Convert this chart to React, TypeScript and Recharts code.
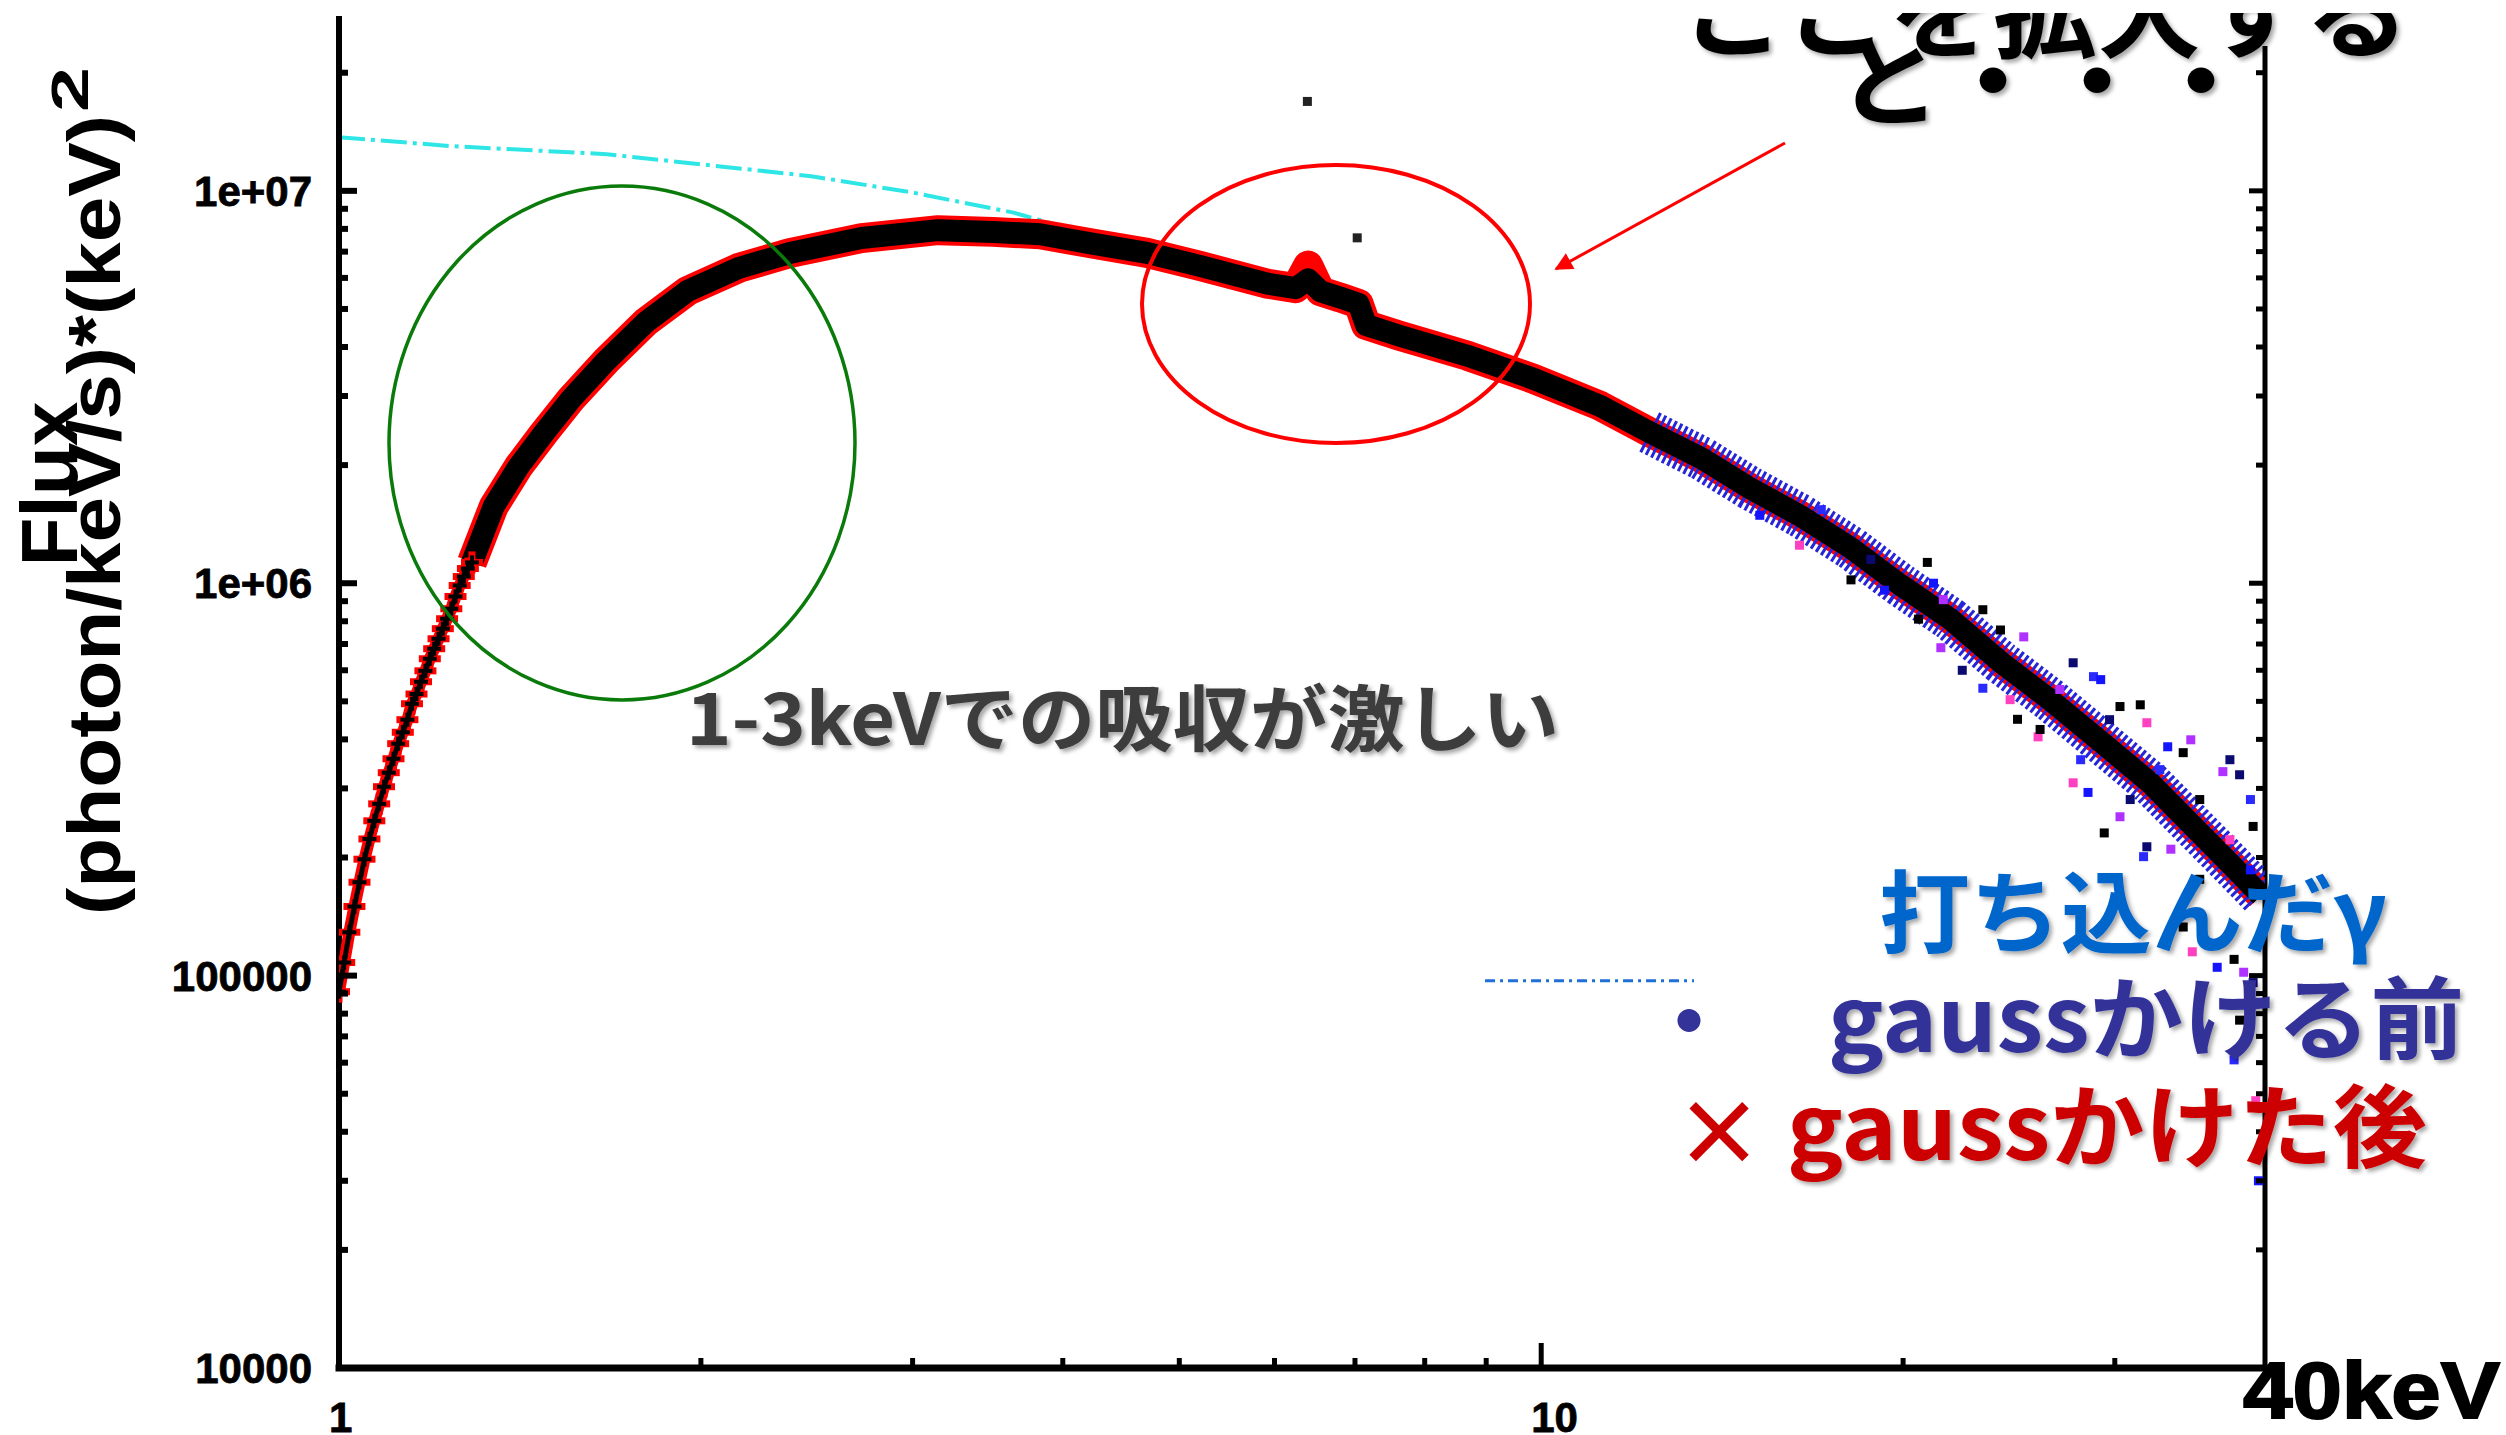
import { ComposedChart, Scatter, Line, XAxis, YAxis, ReferenceLine } from 'recharts'

// 打ち込んだγ (input spectrum, cyan dash-dot)
const inputEnergy = [1.0, 1.24, 1.67, 2.47, 3.0, 3.64, 3.79, 4.1]
const inputFlux = [1.37e7, 1.3e7, 1.24e7, 1.09e7, 9.9e6, 8.8e6, 8.5e6, 7.9e6]

// low energy bins, crosses are still separated here
const lowEnergy = [1.0, 1.01, 1.02, 1.03, 1.04, 1.05, 1.06, 1.07, 1.08, 1.09, 1.1, 1.11, 1.12, 1.13, 1.14, 1.15, 1.16, 1.17, 1.18, 1.19, 1.2, 1.21, 1.22, 1.23, 1.24, 1.25, 1.26, 1.27, 1.28, 1.29]
const lowFlux = [9.1e4, 1.08e5, 1.29e5, 1.5e5, 1.73e5, 1.98e5, 2.23e5, 2.48e5, 2.74e5, 3.03e5, 3.29e5, 3.57e5, 3.9e5, 4.17e5, 4.49e5, 4.93e5, 5.22e5, 5.61e5, 5.98e5, 6.42e5, 6.81e5, 7.22e5, 7.66e5, 8.12e5, 8.61e5, 9.25e5, 9.87e5, 1.04e6, 1.09e6, 1.13e6]

// dense band above 1.3 keV
const bandEnergy = [1.29, 1.345, 1.41, 1.48, 1.56, 1.67, 1.8, 1.95, 2.15, 2.37, 2.72, 3.15, 3.5, 3.83, 4.22, 4.7, 5.2, 5.92, 6.25, 6.4, 6.55, 6.8, 7.05, 7.15, 7.63, 8.68, 9.85, 11.2, 12.3, 13.6, 14.9, 16.4, 18.1, 19.9, 21.9, 24.1, 26.5, 29.2, 32.1, 35.3, 37.6, 39.7]
const afterGauss = [1.13e6, 1.57e6, 1.98e6, 2.41e6, 2.95e6, 3.7e6, 4.63e6, 5.56e6, 6.36e6, 6.94e6, 7.58e6, 7.94e6, 7.86e6, 7.75e6, 7.35e6, 6.95e6, 6.44e6, 5.8e6, 5.65e6, 6.45e6, 5.55e6, 5.35e6, 5.15e6, 4.55e6, 4.27e6, 3.8e6, 3.32e6, 2.83e6, 2.43e6, 2.08e6, 1.75e6, 1.49e6, 1.23e6, 9.9e5, 8.1e5, 6.3e5, 5.05e5, 3.95e5, 3.1e5, 2.31e5, 1.9e5, 1.6e5]
const beforeGauss = [1.13e6, 1.57e6, 1.98e6, 2.41e6, 2.95e6, 3.7e6, 4.63e6, 5.56e6, 6.36e6, 6.94e6, 7.58e6, 7.94e6, 7.86e6, 7.75e6, 7.35e6, 6.95e6, 6.44e6, 5.8e6, 5.65e6, 5.95e6, 5.55e6, 5.35e6, 5.15e6, 4.55e6, 4.27e6, 3.8e6, 3.32e6, 2.83e6, 2.43e6, 2.08e6, 1.75e6, 1.49e6, 1.23e6, 9.9e5, 8.1e5, 6.3e5, 5.05e5, 3.95e5, 3.1e5, 2.31e5, 1.9e5, 1.6e5]

// scattered points around the band at high energy (+ two stray dots)
const noiseEnergy = [
  19.3, 20.6, 21.5, 22.4, 23.3, 24.9, 25.9, 21.2, 23.3, 25.2, 27.7, 28.8, 30.3, 31.9, 33.2, 34.2, 36.9, 38.1, 38.9, 39.1,
  27.7, 28.5, 29.4, 30.3, 31.9, 31.7, 34.2, 34.8, 36.5, 37.7, 38.4, 39.1, 37.7, 38.1, 39.3, 39.5,
  20.95, 21.6, 18.8, 17.1, 18.1, 16.4, 15.2, 24.1, 27.0, 29.7, 32.7, 35.3, 37.4, 38.9, 35.3, 33.4, 30.9, 28.1, 26.0, 24.55, 29.2, 31.5, 34.7, 37.4,
  6.39, 7.03,
]
const noiseFlux = [
  9.6e5, 8.1e5, 6.85e5, 6.0e5, 5.4e5, 4.5e5, 4.06e5, 1.0e6, 8.56e5, 7.3e5, 6.27e5, 5.78e5, 4.85e5, 4.41e5, 3.83e5, 3.7e5, 3.31e5, 3.25e5, 2.81e5, 2.4e5,
  3.1e5, 2.93e5, 2.31e5, 2.54e5, 2.13e5, 2.01e5, 1.33e5, 1.15e5, 1.05e5, 1.1e5, 1.02e5, 9.6e4, 6.1e4, 7.7e4, 4.8e4, 3.0e4,
  1.13e6, 9.08e5, 1.15e6, 1.54e6, 1.02e6, 1.25e6, 1.49e6, 7.6e5, 5.36e5, 4.49e5, 3.35e5, 2.81e5, 2.22e5, 1.86e5, 1.76e5, 2.1e5, 2.81e5, 3.55e5, 4.24e5, 5.05e5, 5.68e5, 4.9e5, 3.99e5, 3.55e5,
  1.69e7, 7.59e6,
]

const xTicks = [1, 2, 3, 4, 5, 6, 7, 8, 9, 10, 20, 30]
const xTickLabels: Record<number, string> = { 1: '1', 10: '10' }
const yTicks = [
  10000, 20000, 30000, 40000, 50000, 60000, 70000, 80000, 90000,
  100000, 200000, 300000, 400000, 500000, 600000, 700000, 800000, 900000,
  1000000, 2000000, 3000000, 4000000, 5000000, 6000000, 7000000, 8000000, 9000000,
  10000000, 20000000,
]
const yTickLabels: Record<number, string> = { 10000: '10000', 100000: '100000', 1000000: '1e+06', 10000000: '1e+07' }

const zip = (es: number[], vs: number[]) => es.map((e, i) => ({ e, v: vs[i] }))
const inputData = zip(inputEnergy, inputFlux)
const lowData = zip(lowEnergy, lowFlux)
const afterData = zip(bandEnergy, afterGauss)
const beforeData = zip(bandEnergy, beforeGauss)
const beforeHigh = beforeData.filter((d) => d.e >= 12.3)
const noiseData = zip(noiseEnergy, noiseFlux)

const NUM_FONT = '"Liberation Sans", Arial, Helvetica, sans-serif'
const JP_FONT = '"Noto Sans CJK JP", "Noto Sans", sans-serif'
const noiseColors = ['#1414ff', '#000000', '#b030ff', '#0a0a70', '#2a2aff', '#000000', '#ff40c0']

const LeftTick = (props: any) => {
  const { x, y, payload } = props
  const v = payload.value
  const label = yTickLabels[v]
  return (
    <g>
      {v !== 10000 && <line x1={x} x2={x + (label ? 18 : 9)} y1={y} y2={y} stroke="#000" strokeWidth={6} />}
      {label && (
        <text x={x - 27} y={y} dy={15} textAnchor="end" fontFamily={NUM_FONT} fontWeight="bold" fontSize={42} fill="#000" stroke="#000" strokeWidth={0.8}>
          {label}
        </text>
      )}
    </g>
  )
}

const RightTick = (props: any) => {
  const { x, y, payload } = props
  const v = payload.value
  if (v === 10000) return <g />
  return <line x1={x} x2={x - (yTickLabels[v] ? 16 : 9)} y1={y} y2={y} stroke="#000" strokeWidth={5} />
}

const BottomTick = (props: any) => {
  const { x, y, payload } = props
  const v = payload.value
  const label = xTickLabels[v]
  return (
    <g>
      {v !== 1 && <line x1={x} x2={x} y1={y} y2={y - (label ? 25 : 10)} stroke="#000" strokeWidth={5} />}
      {label && (
        <text x={x - 10} y={y + 64} textAnchor="start" fontFamily={NUM_FONT} fontWeight="bold" fontSize={42} fill="#000" stroke="#000" strokeWidth={0.8}>
          {label}
        </text>
      )}
    </g>
  )
}

const RedCross = (props: any) => {
  const { cx, cy } = props
  return (
    <g stroke="#ff0000" strokeWidth={7}>
      <line x1={cx - 11} x2={cx + 11} y1={cy} y2={cy} />
      <line x1={cx} x2={cx} y1={cy - 11} y2={cy + 11} />
    </g>
  )
}

const BlackCross = (props: any) => {
  const { cx, cy } = props
  return (
    <g stroke="#000" strokeWidth={4}>
      <line x1={cx - 7} x2={cx + 7} y1={cy} y2={cy} />
      <line x1={cx} x2={cx} y1={cy - 7} y2={cy + 7} />
    </g>
  )
}

const NoShape = () => <g />

const NoiseDot = (props: any) => {
  const { cx, cy, index, payload } = props
  const color = payload && payload.e < 10 ? '#222' : noiseColors[(index ?? 0) % noiseColors.length]
  return <rect x={cx - 4.5} y={cy - 4.5} width={9} height={9} fill={color} />
}

const App = () => {
  return (
    <div style={{ position: 'fixed', left: 0, top: 0, width: 2506, height: 1435, background: '#fff' }}>
      <ComposedChart width={2506} height={1435} margin={{ top: 16, right: 240, bottom: 0, left: 139 }}>
        <XAxis
          dataKey="e"
          type="number"
          scale="log"
          domain={[1, 40]}
          allowDataOverflow
          ticks={xTicks}
          interval={0}
          height={67}
          tickSize={0}
          tickMargin={0}
          tickLine={false}
          tick={<BottomTick />}
          axisLine={{ stroke: '#000', strokeWidth: 7, strokeLinecap: 'square' }}
        />
        <YAxis
          yAxisId="l"
          dataKey="v"
          type="number"
          scale="log"
          domain={[1e4, 2.79e7]}
          allowDataOverflow
          ticks={yTicks}
          interval={0}
          width={200}
          tickSize={0}
          tickMargin={0}
          tickLine={false}
          tick={<LeftTick />}
          axisLine={{ stroke: '#000', strokeWidth: 6 }}
        />
        <YAxis
          yAxisId="r"
          orientation="right"
          dataKey="v"
          type="number"
          scale="log"
          domain={[1e4, 2.79e7]}
          allowDataOverflow
          ticks={yTicks}
          interval={0}
          width={1}
          tickSize={0}
          tickMargin={0}
          tickLine={false}
          tick={<RightTick />}
          axisLine={{ stroke: '#000', strokeWidth: 5 }}
        />
        <Line
          yAxisId="l"
          data={inputData}
          dataKey="v"
          type="linear"
          stroke="#2fe6e6"
          strokeWidth={4}
          strokeDasharray="26 6 4 6"
          dot={false}
          isAnimationActive={false}
        />
        <ReferenceLine
          yAxisId="l"
          segment={[{ x: 8.98, y: 9.7e4 }, { x: 13.4, y: 9.7e4 }]}
          stroke="#1f6fd6"
          strokeWidth={3}
          strokeDasharray="10 5 3 5"
          ifOverflow="visible"
        />
        <Scatter
          yAxisId="l"
          data={afterData}
          fill="#ff0000"
          line={{ stroke: '#ff0000', strokeWidth: 30, strokeLinejoin: 'round', strokeLinecap: 'butt' }}
          shape={<NoShape />}
          isAnimationActive={false}
        />
        <Scatter
          yAxisId="l"
          data={beforeHigh}
          fill="#2626d8"
          line={{ stroke: '#2626d8', strokeWidth: 44, strokeDasharray: '3 3', strokeLinejoin: 'round' }}
          shape={<NoShape />}
          isAnimationActive={false}
        />
        <Scatter
          yAxisId="l"
          data={beforeData}
          fill="#000"
          line={{ stroke: '#000', strokeWidth: 22, strokeLinejoin: 'round', strokeLinecap: 'butt' }}
          shape={<NoShape />}
          isAnimationActive={false}
        />
        <Scatter
          yAxisId="l"
          data={lowData}
          fill="#ff0000"
          line={{ stroke: '#ff0000', strokeWidth: 12 }}
          shape={<RedCross />}
          isAnimationActive={false}
        />
        <Scatter
          yAxisId="l"
          data={lowData}
          fill="#000"
          line={{ stroke: '#000', strokeWidth: 5 }}
          shape={<BlackCross />}
          isAnimationActive={false}
        />
        <Scatter yAxisId="l" data={noiseData} fill="#1414ff" shape={<NoiseDot />} isAnimationActive={false} />
      </ComposedChart>

      <svg width={2506} height={1435} style={{ position: 'absolute', left: 0, top: 0, pointerEvents: 'none' }}>
        <defs>
          <filter id="shadow" x="-5%" y="-30%" width="115%" height="170%">
            <feDropShadow dx="3" dy="3" stdDeviation="2" floodColor="#000" floodOpacity="0.35" />
          </filter>
          <marker id="arrowHead" viewBox="0 0 10 10" refX="9" refY="5" markerWidth="7" markerHeight="6" orient="auto">
            <path d="M0,0 L10,5 L0,10 z" fill="#ff0000" />
          </marker>
        </defs>

        {/* y axis title */}
        <text transform="translate(77,484) rotate(-90)" textAnchor="middle" fontFamily={NUM_FONT} fontWeight="bold" fontSize={80} textLength={165} lengthAdjust="spacingAndGlyphs">
          Flux
        </text>
        <text transform="translate(120,915) rotate(-90)" fontFamily={NUM_FONT} fontWeight="bold" fontSize={74} textLength={800} lengthAdjust="spacingAndGlyphs">
          (photon/keV/s)*(keV)
        </text>
        <text transform="translate(88,112) rotate(-90)" fontFamily={NUM_FONT} fontWeight="bold" fontSize={52} textLength={45} lengthAdjust="spacingAndGlyphs">
          2
        </text>

        {/* annotations */}
        <ellipse cx={622} cy={443} rx={233} ry={257} fill="none" stroke="#0a7a0a" strokeWidth={3.5} />
        <ellipse cx={1336} cy={304} rx={194} ry={139} fill="none" stroke="#ff0000" strokeWidth={4} />
        <line x1={1785} y1={143} x2={1556} y2={269} stroke="#ff0000" strokeWidth={3} markerEnd="url(#arrowHead)" />

        <text x={686} y={745} fontFamily={JP_FONT} fontWeight={700} fontSize={72} fill="#3c3c3c" textLength={873} lengthAdjust="spacingAndGlyphs" filter="url(#shadow)">
          1-3keVでの吸収が激しい
        </text>

        <rect x={1660} y={0} width={760} height={46} fill="#fff" />
        <text x={2045} y={50} textAnchor="middle" fontFamily={JP_FONT} fontWeight={700} fontSize={100} fill="#000" textLength={728} lengthAdjust="spacingAndGlyphs" filter="url(#shadow)">
          ここを拡大する
        </text>
        <text x={2045} y={118} textAnchor="middle" fontFamily={JP_FONT} fontWeight={700} fontSize={100} fill="#000" textLength={416} lengthAdjust="spacingAndGlyphs" filter="url(#shadow)">
          と・・・
        </text>
        <rect x={1600} y={0} width={906} height={13} fill="#fff" />

        {/* legend texts */}
        <text x={1879} y={946} fontFamily={JP_FONT} fontWeight={700} fontSize={90} fill="#0066cc" textLength={508} lengthAdjust="spacingAndGlyphs" filter="url(#shadow)">
          打ち込んだγ
        </text>
        <text x={1689} y={1055} textAnchor="middle" fontFamily={JP_FONT} fontWeight={700} fontSize={90} fill="#333399">
          ・
        </text>
        <text x={1828} y={1052} fontFamily={JP_FONT} fontWeight={700} fontSize={90} fill="#333399" textLength={636} lengthAdjust="spacingAndGlyphs" filter="url(#shadow)">
          gaussかける前
        </text>
        <text x={1719} y={1166} textAnchor="middle" fontFamily={JP_FONT} fontWeight={700} fontSize={90} fill="#cc0000">
          ×
        </text>
        <text x={1787} y={1160} fontFamily={JP_FONT} fontWeight={700} fontSize={90} fill="#cc0000" textLength={640} lengthAdjust="spacingAndGlyphs" filter="url(#shadow)">
          gaussかけた後
        </text>

        <text x={2243} y={1418} fontFamily={NUM_FONT} fontWeight="bold" fontSize={80} fill="#000" stroke="#000" strokeWidth={2} textLength={257} lengthAdjust="spacingAndGlyphs">
          40keV
        </text>
      </svg>
    </div>
  )
}

export default App
